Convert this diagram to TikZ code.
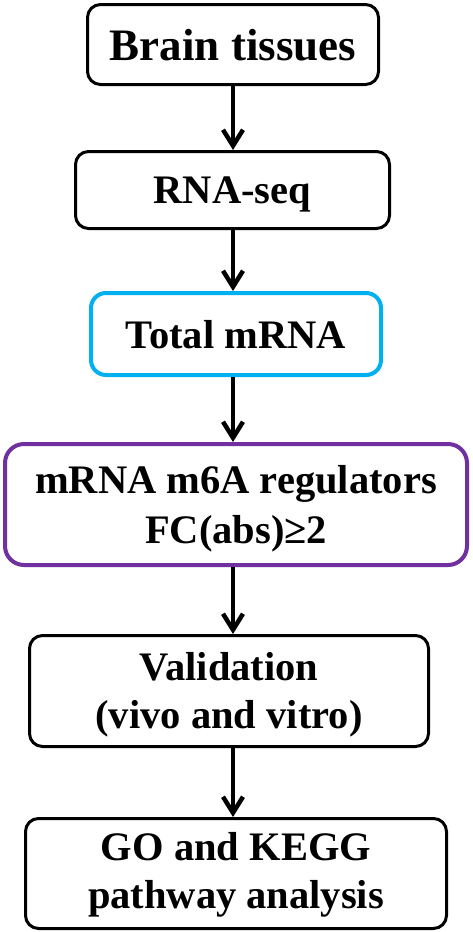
\documentclass[tikz,border=0pt]{standalone}
\usepackage{fontspec}
\setmainfont{Liberation Serif}
\usetikzlibrary{arrows.meta}
\definecolor{cyanb}{RGB}{0,176,240}
\definecolor{purpb}{RGB}{112,48,160}
\begin{document}
\begin{tikzpicture}[x=1pt,y=-1pt,
  box/.style={draw=black, line width=3pt, rounded corners=13pt, fill=white, inner sep=0pt},
  txt/.style={inner sep=0pt, anchor=base, font=\fontsize{40.5}{48}\selectfont\bfseries},
  arr/.style={line width=4.5pt, -{Straight Barb[length=16pt,width=20pt,line width=4.5pt]}}]
\useasboundingbox[fill=white] (0,0) rectangle (472,932);
% boxes
\node[box, minimum width=291pt, minimum height=80pt] (b1) at (233,44.5) {};
\node[box, minimum width=314pt, minimum height=77pt] (b2) at (232.5,190) {};
\node[box, draw=cyanb, line width=4pt, rounded corners=15pt, minimum width=290pt, minimum height=82pt] (b3) at (236,334) {};
\node[box, draw=purpb, line width=4pt, rounded corners=19pt, minimum width=462pt, minimum height=121pt] (b4) at (236,504.5) {};
\node[box, minimum width=399pt, minimum height=111pt] (b5) at (229,691) {};
\node[box, minimum width=421pt, minimum height=110pt] (b6) at (236,873.5) {};
% texts
\node[txt, font=\fontsize{45}{50}\selectfont\bfseries] (t1) at (b1.center |- 0,60) {Brain tissues};
\node[txt] (t2) at (b2.center |- 0,203) {RNA-seq};
\node[txt] (t3) at (b3.center |- 0,348) {Total mRNA};
\node[txt] (t4a) at (b4.center |- 0,493) {mRNA m6A regulators};
\node[txt] (t4b) at (b4.center |- 0,543) {FC(abs)≥2};
\node[txt] (t5a) at (b5.center |- 0,680) {Validation};
\node[txt] (t5b) at (b5.center |- 0,728) {(vivo and vitro)};
\node[txt] (t6a) at (b6.center |- 0,860) {GO and KEGG};
\node[txt] (t6b) at (b6.center |- 0,908) {pathway analysis};
% arrows
\coordinate (ax) at (233,0);
\draw[arr] (b1.south -| ax) -- (b2.north -| ax);
\draw[arr] (b2.south -| ax) -- (b3.north -| ax);
\draw[arr] (b3.south -| ax) -- (b4.north -| ax);
\draw[arr] (b4.south -| ax) -- (b5.north -| ax);
\draw[arr] (b5.south -| ax) -- (b6.north -| ax);
\end{tikzpicture}
\end{document}
